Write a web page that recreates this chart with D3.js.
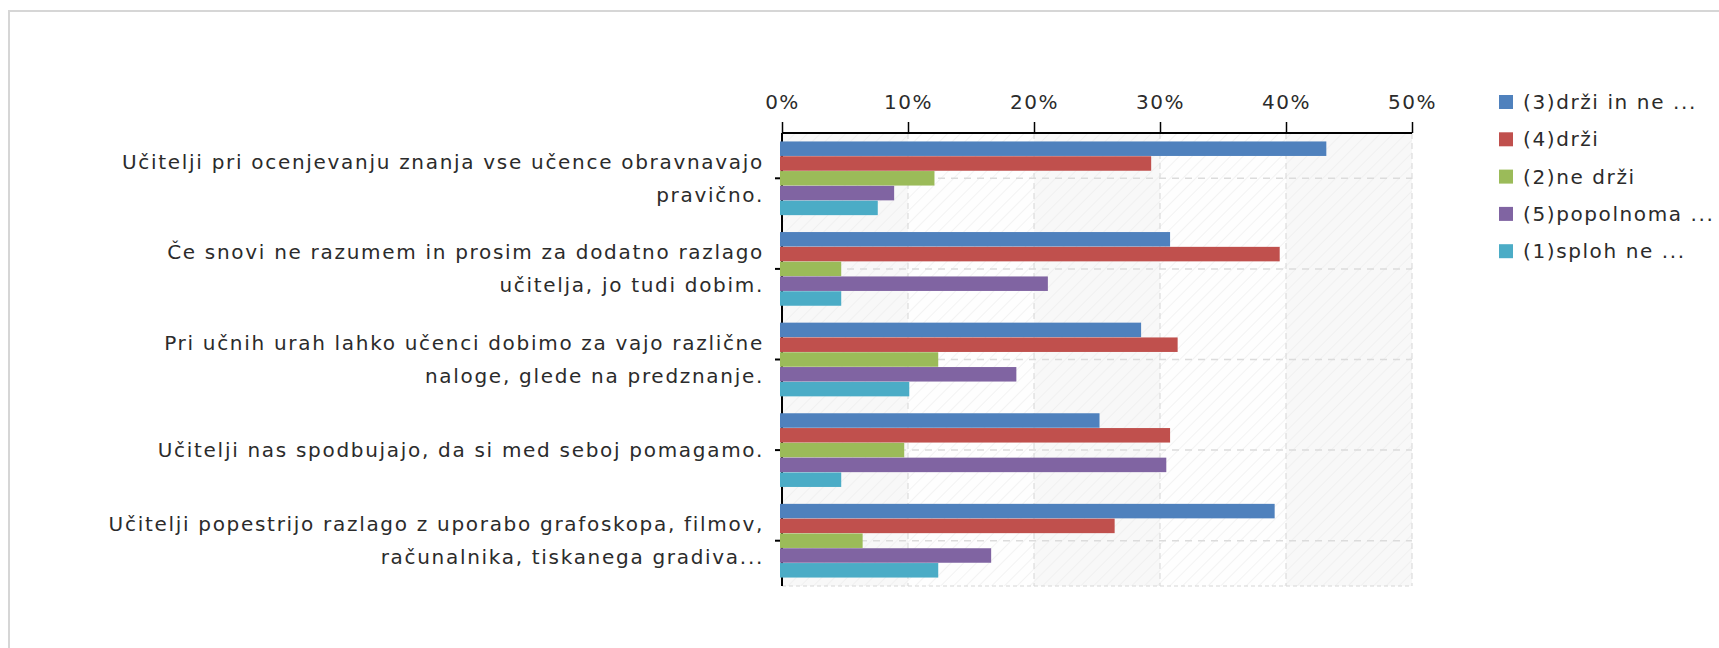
<!DOCTYPE html>
<html>
<head>
<meta charset="utf-8">
<script src="https://cdn.jsdelivr.net/npm/d3@7"></script>
<style>
  body { margin: 0; background: #fff; }
  svg { display: block; }
  text { font-family: "DejaVu Sans", sans-serif; fill: #2b2b2b; }
</style>
</head>
<body>
<svg width="1719" height="648"></svg>
<script>
'use strict';

// data (percent)
var categories = [
  ["Učitelji pri ocenjevanju znanja vse učence obravnavajo", "pravično."],
  ["Če snovi ne razumem in prosim za dodatno razlago", "učitelja, jo tudi dobim."],
  ["Pri učnih urah lahko učenci dobimo za vajo različne", "naloge, glede na predznanje."],
  ["Učitelji nas spodbujajo, da si med seboj pomagamo."],
  ["Učitelji popestrijo razlago z uporabo grafoskopa, filmov,", "računalnika, tiskanega gradiva..."]
];
var seriesNames = ["(3)drži in ne ...", "(4)drži", "(2)ne drži", "(5)popolnoma ...", "(1)sploh ne ..."];
var seriesColors = ["#4f81bd", "#c0504d", "#9bbb59", "#8064a2", "#4bacc6"];
var s3 = [43.2, 30.8, 28.5, 25.2, 39.1];
var s4 = [29.3, 39.5, 31.4, 30.8, 26.4];
var s2 = [12.1, 4.7, 12.4, 9.7, 6.4];
var s5 = [8.9, 21.1, 18.6, 30.5, 16.6];
var s1 = [7.6, 4.7, 10.1, 4.7, 12.4];
var seriesValues = [s3, s4, s2, s5, s1];
var xTicks = [0, 10, 20, 30, 40, 50];

var svg = d3.select("svg");
var margin = {top: 133, left: 782, right: 307, bottom: 62};
var width = 1719 - margin.left - margin.right;   // 630
var height = 648 - margin.top - margin.bottom;   // 453

// outer frame
svg.append("rect")
    .attr("x", 9).attr("y", 11)
    .attr("width", 1740).attr("height", 700)
    .attr("fill", "none")
    .attr("stroke", "#d6d6d6")
    .attr("stroke-width", 2);

var x = d3.scaleLinear().domain([0, 50]).range([0, width]);
var y0 = d3.scaleBand().domain(d3.range(categories.length)).range([0, height])
    .paddingInner(0.18).paddingOuter(0.09);
var y1 = d3.scaleBand().domain(d3.range(seriesNames.length)).range([0, y0.bandwidth()]).padding(0.02);
var yCenter = d3.scaleBand().domain(d3.range(categories.length)).range([0, height]);

// hatch pattern for plot background
var defs = svg.append("defs");
var pat = defs.append("pattern")
    .attr("id", "hatch")
    .attr("patternUnits", "userSpaceOnUse")
    .attr("width", 9).attr("height", 9)
    .attr("patternTransform", "rotate(45)");
pat.append("line")
    .attr("x1", 0).attr("y1", 0).attr("x2", 0).attr("y2", 9)
    .attr("stroke", "#ebebeb").attr("stroke-width", 1.2);

var g = svg.append("g").attr("transform", "translate(" + margin.left + "," + margin.top + ")");

// alternating column shading
g.selectAll(".col")
    .data(xTicks.slice(0, -1))
    .enter().append("rect")
    .attr("class", "col")
    .attr("x", function(d) { return x(d); })
    .attr("y", 0)
    .attr("width", function(d) { return x(d + 10) - x(d); })
    .attr("height", height)
    .attr("fill", function(d, i) { return i % 2 == 0 ? "#f8f8f8" : "#fefefe"; });
g.append("rect")
    .attr("width", width).attr("height", height)
    .attr("fill", "url(#hatch)");

// grid lines
g.selectAll(".vgrid")
    .data(xTicks.slice(1))
    .enter().append("line")
    .attr("class", "vgrid")
    .attr("x1", function(d) { return x(d); })
    .attr("x2", function(d) { return x(d); })
    .attr("y1", 0).attr("y2", height)
    .attr("stroke", "#d6d6d6")
    .attr("stroke-dasharray", "6,4");
g.selectAll(".hgrid")
    .data(d3.range(categories.length))
    .enter().append("line")
    .attr("class", "hgrid")
    .attr("x1", 0).attr("x2", width)
    .attr("y1", function(d) { return yCenter(d) + yCenter.bandwidth() / 2; })
    .attr("y2", function(d) { return yCenter(d) + yCenter.bandwidth() / 2; })
    .attr("stroke", "#dcdcdc")
    .attr("stroke-width", 1.5)
    .attr("stroke-dasharray", "7,6");
g.append("line")
    .attr("x1", 0).attr("x2", width)
    .attr("y1", height).attr("y2", height)
    .attr("stroke", "#d6d6d6")
    .attr("stroke-dasharray", "4,3");

// left axis with category ticks
var yAxis = d3.axisLeft(yCenter).tickSize(7).tickFormat("");
var yAx = g.append("g").attr("class", "yaxis").call(yAxis);
yAx.select(".domain").attr("stroke", "#000").attr("stroke-width", 2)
    .attr("d", "M0,0V" + height);
yAx.selectAll(".tick line").attr("stroke", "#000").attr("stroke-width", 2);

// bars
var groups = g.selectAll(".grp")
    .data(categories)
    .enter().append("g")
    .attr("class", "grp")
    .attr("transform", function(d, i) { return "translate(0," + y0(i) + ")"; });

groups.selectAll("rect")
    .data(function(d, i) { return seriesValues.map(function(vals, s) { return {s: s, v: vals[i]}; }); })
    .enter().append("rect")
    .attr("x", -2)
    .attr("y", function(d) { return y1(d.s); })
    .attr("width", function(d) { return x(d.v) + 2; })
    .attr("height", y1.bandwidth())
    .attr("fill", function(d) { return seriesColors[d.s]; });

// category labels
var labels = g.selectAll(".cat")
    .data(categories)
    .enter().append("text")
    .attr("class", "cat")
    .attr("text-anchor", "end")
    .attr("font-size", 20)
    .attr("letter-spacing", 1.7)
    .attr("transform", function(d, i) {
      return "translate(-18," + (yCenter(i) + yCenter.bandwidth() / 2) + ")";
    });
labels.selectAll("tspan")
    .data(function(d) { return d.map(function(t, k) { return {t: t, k: k, n: d.length}; }); })
    .enter().append("tspan")
    .attr("x", 0)
    .attr("y", function(d) { return (d.k - (d.n - 1) / 2) * 33; })
    .attr("dy", "0.35em")
    .text(function(d) { return d.t; });

// top axis
var xAxis = d3.axisTop(x).tickValues(xTicks).tickSize(11).tickPadding(13)
    .tickFormat(function(d) { return d + "%"; });
var xAx = g.append("g").attr("class", "xaxis").call(xAxis);
xAx.select(".domain").attr("stroke", "#000").attr("stroke-width", 2)
    .attr("d", "M0,0H" + width);
xAx.selectAll(".tick line").attr("stroke", "#000").attr("stroke-width", 1.5);
xAx.selectAll(".tick text")
    .attr("font-size", 20)
    .attr("letter-spacing", 1.5)
    .attr("fill", "#2b2b2b")
    .style("font-family", "DejaVu Sans, sans-serif");

// legend
var legend = svg.append("g").attr("transform", "translate(1499,102)");
var item = legend.selectAll(".item")
    .data(seriesNames)
    .enter().append("g")
    .attr("class", "item")
    .attr("transform", function(d, i) { return "translate(0," + i * 37.3 + ")"; });
item.append("rect")
    .attr("x", 0).attr("y", -7)
    .attr("width", 14).attr("height", 14)
    .attr("fill", function(d, i) { return seriesColors[i]; });
item.append("text")
    .attr("x", 24)
    .attr("dy", "0.35em")
    .attr("font-size", 20)
    .attr("letter-spacing", 1.6)
    .text(function(d) { return d; });
</script>
</body>
</html>
